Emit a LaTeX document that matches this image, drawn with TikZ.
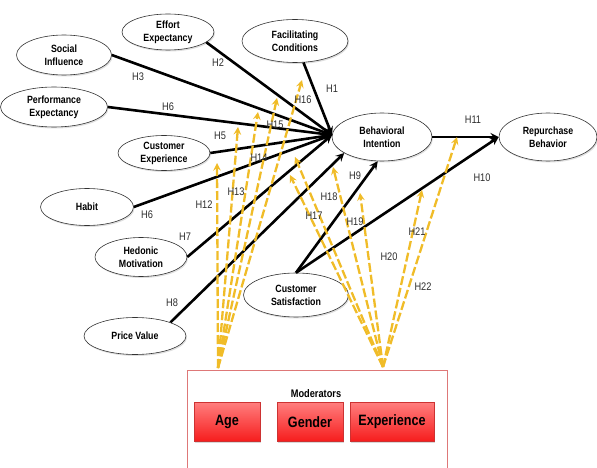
\documentclass[tikz,border=0pt]{standalone}
\usepackage{fontspec}
\setmainfont[FakeStretch=0.84]{Liberation Sans}
\usetikzlibrary{shapes.geometric,shadows}

\begin{document}
\begin{tikzpicture}[x=1pt,y=-1pt,>=stealth]
      % colours
      \definecolor{dashcolor}{RGB}{240,188,40}   % moderator arrows
      \definecolor{boxline}{RGB}{222,120,120}    % moderator frame
      \definecolor{redtop}{RGB}{255,125,125}
      \definecolor{redbot}{RGB}{246,28,28}
      \definecolor{redline}{RGB}{205,50,50}
      \definecolor{labelcolor}{RGB}{45,45,45}

      % styles
      \tikzstyle{construct} = [ellipse, draw=black!80, fill=white, line width=0.6pt, inner sep=0pt, align=center, font=\bfseries\fontsize{10.5}{13}\selectfont, drop shadow={opacity=0.25, shadow xshift=1pt, shadow yshift=-1.5pt}]
      \tikzstyle{modbox} = [rectangle, draw=redline, line width=0.4pt, top color=redtop, bottom color=redbot, minimum height=39pt, inner sep=0pt, font=\bfseries\fontsize{15}{17}\selectfont, drop shadow={opacity=0.3, shadow xshift=1.2pt, shadow yshift=-1.5pt}]
      \tikzstyle{hlabel} = [inner sep=0pt, text=labelcolor, font=\fontsize{11}{13}\selectfont]
      \tikzstyle{path} = [->, line width=2.6pt, black]
      \tikzstyle{moder} = [->, line width=2.3pt, dashcolor, dash pattern=on 9pt off 3pt]

      \useasboundingbox (0,0) rectangle (597,468);

      % constructs
      \node[construct, minimum width=92pt, minimum height=36pt] (ee) at (168,32) {Effort\\Expectancy};
      \node[construct, minimum width=95pt, minimum height=40pt] (si) at (64,55) {Social\\Influence};
      \node[construct, minimum width=106pt, minimum height=43pt] (fc) at (295,41) {Facilitating\\Conditions};
      \node[construct, minimum width=107pt, minimum height=40pt] (pe) at (54,107) {Performance\\Expectancy};
      \node[construct, minimum width=92pt, minimum height=35pt] (ce) at (164,153) {Customer\\Experience};
      \node[construct, minimum width=93pt, minimum height=37pt] (hb) at (87,207) {Habit};
      \node[construct, minimum width=92pt, minimum height=39pt] (hm) at (141,257) {Hedonic\\Motivation};
      \node[construct, minimum width=102pt, minimum height=37pt] (pv) at (135,336) {Price Value};
      \node[construct, minimum width=105pt, minimum height=44pt] (cs) at (296,295) {Customer\\Satisfaction};
      \node[construct, minimum width=100pt, minimum height=48pt] (bi) at (382,137) {Behavioral\\Intention};
      \node[construct, minimum width=98pt, minimum height=48pt] (rb) at (548,137) {Repurchase\\Behavior};

      % moderators
      \node[draw=boxline, fill=white, line width=0.6pt, minimum width=260pt, minimum height=102pt, inner sep=0pt] (mods) at (317,421) {};
      \node[inner sep=0pt, font=\bfseries\fontsize{11}{13}\selectfont] (modtitle) at (316,394) {Moderators};
      \node[modbox, minimum width=66pt] (age) at (227,422) {Age};
      \node[modbox, minimum width=66pt] (gender) at (310,422) {Gender};
      \node[modbox, minimum width=84pt] (exper) at (392,422) {Experience};

      % meeting points
      \coordinate (bin) at (332,135);
      \coordinate (agefan) at (218,368);
      \coordinate (expfan) at (383,367);
      \coordinate (m12) at (217,163);
      \coordinate (m13) at (238,127);
      \coordinate (m14) at (258,112);
      \coordinate (m15) at (277,98);
      \coordinate (m16) at (302,80);
      \coordinate (m17) at (290,175);
      \coordinate (m18) at (295,157);
      \coordinate (m19) at (333,167);
      \coordinate (m20) at (360,193);
      \coordinate (m21) at (422,190);
      \coordinate (m22) at (457,137);

      % structural paths
      \draw[path] (ee.-15) -- (bin);
      \draw[path] (fc) -- (bin);
      \draw[path] (si.east) -- (bin);
      \draw[path] (pe.east) -- (bin);
      \draw[path] (ce.east) -- (bin);
      \draw[path] (hb.east) -- (bin);
      \draw[path] (hm.east) -- (bin);
      \draw[path] (pv.21) -- (bi.203);
      \draw[path] (cs.north) -- (bi.260);
      \draw[path] (cs.north) -- (rb.west);
      \draw[path] (bi) -- (rb);

      % moderating paths
      \draw[moder] (agefan) -- (m12);
      \draw[moder] (agefan) -- (m13);
      \draw[moder] (agefan) -- (m14);
      \draw[moder] (agefan) -- (m15);
      \draw[moder] (agefan) -- (m16);
      \draw[moder] (expfan) -- (m17);
      \draw[moder] (expfan) -- (m18);
      \draw[moder] (expfan) -- (m19);
      \draw[moder] (expfan) -- (m20);
      \draw[moder] (expfan) -- (m21);
      \draw[moder] (expfan) -- (m22);

      % hypothesis labels
      \node[hlabel] (h1) at (332,89) {H1};
      \node[hlabel] (h2) at (218,63) {H2};
      \node[hlabel] (h3) at (138,77) {H3};
      \node[hlabel] (h5) at (220,136) {H5};
      \node[hlabel] (h6a) at (168,107) {H6};
      \node[hlabel] (h6b) at (147,215) {H6};
      \node[hlabel] (h7) at (185,237) {H7};
      \node[hlabel] (h8) at (172,303) {H8};
      \node[hlabel] (h9) at (355,176) {H9};
      \node[hlabel] (h10) at (482,178) {H10};
      \node[hlabel] (h11) at (473,120) {H11};
      \node[hlabel] (h12) at (204,205) {H12};
      \node[hlabel] (h13) at (236,192) {H13};
      \node[hlabel] (h14) at (259,158) {H14};
      \node[hlabel] (h15) at (275,125) {H15};
      \node[hlabel] (h16) at (303,100) {H16};
      \node[hlabel] (h17) at (314,216) {H17};
      \node[hlabel] (h18) at (329,197) {H18};
      \node[hlabel] (h19) at (355,222) {H19};
      \node[hlabel] (h20) at (389,257) {H20};
      \node[hlabel] (h21) at (417,232) {H21};
      \node[hlabel] (h22) at (423,287) {H22};
\end{tikzpicture}
\end{document}
